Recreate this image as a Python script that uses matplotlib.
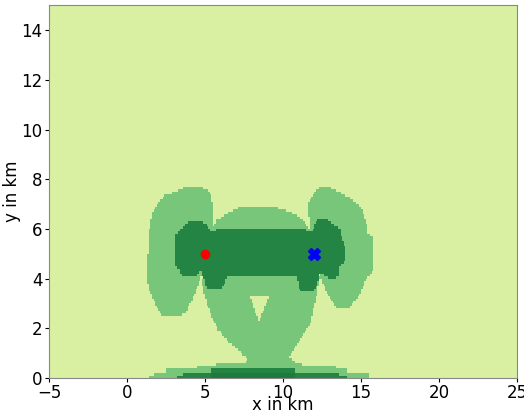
import numpy as np
import matplotlib
matplotlib.use("Agg")
import matplotlib.pyplot as plt
from matplotlib.colors import ListedColormap, BoundaryNorm
from matplotlib.path import Path

# zone outlines in km, (x, y) vertices
left_lobe = [(4.25, 7.72), (3.6, 7.65), (2.9, 7.45), (2.4, 7.35), (1.9, 7.0), (1.65, 6.7),
             (1.45, 6.0), (1.35, 5.0), (1.25, 4.2), (1.4, 3.6), (1.8, 3.0), (2.3, 2.5),
             (3.2, 2.45), (3.8, 2.65), (4.2, 3.2), (4.6, 3.8), (5.0, 4.5), (5.5, 5.3),
             (5.5, 7.0), (5.3, 7.5), (4.8, 7.7)]
right_lobe = [(12.5, 7.72), (13.0, 7.7), (13.6, 7.5), (14.2, 7.3), (15.0, 6.9), (15.35, 6.2),
              (15.4, 5.8), (15.8, 5.7), (15.8, 4.3), (15.3, 3.95), (14.85, 3.3), (14.2, 2.8),
              (13.5, 2.8), (12.8, 3.4), (12.45, 4.0), (11.8, 5.2), (11.7, 6.0), (11.6, 7.0),
              (12.0, 7.5)]
center_arch = [(5.75, 6.36), (6.3, 6.6), (7.2, 6.87), (8.3, 6.93), (9.6, 6.87), (10.5, 6.7),
               (11.3, 6.36), (11.7, 6.0), (12.37, 4.08), (12.05, 3.0), (11.73, 2.2),
               (11.09, 1.53), (10.66, 1.13), (10.35, 0.86), (10.9, 0.6), (7.5, 0.6),
               (7.78, 0.72), (7.24, 1.06), (6.39, 1.53), (5.85, 1.93), (5.43, 2.46),
               (5.11, 3.0), (4.79, 3.81), (5.2, 5.0), (5.5, 6.0)]
bottom_band = [(1.4, 0.0), (1.4, 0.12), (1.7, 0.12), (1.7, 0.24), (2.5, 0.24), (2.5, 0.36),
               (4.5, 0.36), (4.5, 0.48), (5.7, 0.48), (5.7, 0.6), (11.2, 0.6), (11.2, 0.48),
               (13.4, 0.48), (13.4, 0.36), (14.1, 0.36), (14.1, 0.24), (15.5, 0.24), (15.5, 0.0)]
hole = [(7.9, 3.25), (9.1, 3.25), (8.45, 2.3)]

core = [(3.12, 5.75), (3.4, 5.95), (3.61, 6.09), (4.0, 6.3), (4.36, 6.33), (4.8, 6.3),
        (5.15, 6.1), (5.32, 5.85), (5.75, 5.98), (6.5, 6.02), (10.9, 6.02), (11.5, 5.95),
        (11.84, 5.85), (12.16, 6.36), (12.9, 6.36), (13.4, 6.1), (13.65, 5.96),
        (13.97, 5.28), (13.97, 4.75), (13.65, 4.48), (13.65, 4.08), (13.01, 4.01),
        (12.37, 4.21), (12.2, 3.7), (11.94, 3.54), (11.09, 3.54), (10.88, 4.08),
        (6.39, 4.08), (6.2, 3.7), (5.96, 3.58), (5.1, 3.6), (4.95, 4.0), (4.68, 4.35),
        (4.47, 4.08), (3.5, 4.08), (3.40, 4.35), (3.12, 4.48)]
core_bottom = [(3.18, 0.0), (3.18, 0.12), (3.6, 0.12), (3.6, 0.24), (5.4, 0.24), (5.4, 0.36),
               (10.8, 0.36), (10.8, 0.24), (13.65, 0.24), (13.65, 0.12), (14.07, 0.12),
               (14.07, 0.0)]
core_bottom_inner = [(5.4, 0.0), (5.4, 0.24), (10.8, 0.24), (10.8, 0.0)]

tx = (5, 5)
rx = (12, 5)

zone_colors = ['#d9f0a3', '#78c679', '#238443', '#1d7a3b']

x_edges = np.linspace(-5, 25, 301)
y_edges = np.linspace(0, 15, 151)
xc = 0.5 * (x_edges[:-1] + x_edges[1:])
yc = 0.5 * (y_edges[:-1] + y_edges[1:])
XX, YY = np.meshgrid(xc, yc)
pts = np.column_stack([XX.ravel(), YY.ravel()])


def inside(poly):
    return Path(poly).contains_points(pts).reshape(XX.shape)


field = np.zeros(XX.shape)
for poly in (left_lobe, right_lobe, center_arch, bottom_band):
    field[inside(poly)] = 1
field[inside(hole)] = 0
field[inside(core)] = 2
field[inside(core_bottom)] = 2
field[inside(core_bottom_inner)] = 3

fig, ax = plt.subplots(figsize=(5.24, 4.12), dpi=100)
fig.subplots_adjust(left=0.0935, right=0.9866, top=0.987, bottom=0.0825)

cmap = ListedColormap(zone_colors)
norm = BoundaryNorm([-0.5, 0.5, 1.5, 2.5, 3.5], cmap.N)
ax.pcolormesh(x_edges, y_edges, field, cmap=cmap, norm=norm)

ax.plot(*tx, 'o', color='red', markersize=6)
ax.plot(*rx, 'X', color='blue', markersize=8)

ax.set_xlim(-5, 25)
ax.set_ylim(0, 15)
ax.set_xlabel('x in km', fontsize=12)
ax.set_ylabel('y in km', fontsize=12, labelpad=0)
ax.xaxis.set_label_coords(0.5, -0.048)
ax.tick_params(labelsize=12, length=3, pad=1.5)
for s in ax.spines.values():
    s.set_color('#888888')

fig.savefig('out.png', dpi=100)
